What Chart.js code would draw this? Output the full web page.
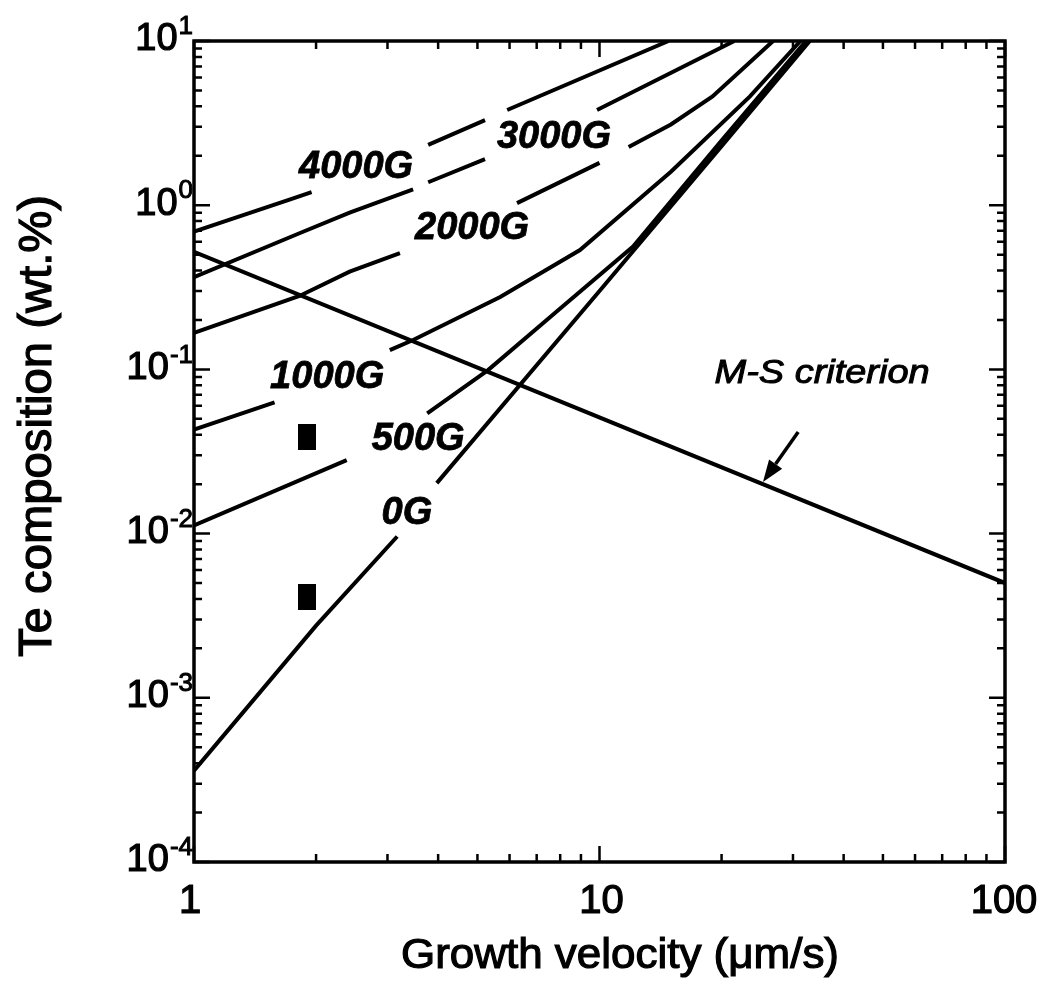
<!DOCTYPE html>
<html>
<head>
<meta charset="utf-8">
<script src="https://cdn.jsdelivr.net/npm/chart.js@4.4.1/dist/chart.umd.min.js"></script>
<style>
  html, body { margin: 0; padding: 0; background: #fff; }
</style>
</head>
<body>
<canvas id="teChart" width="1046" height="985"></canvas>
<script>
// axis ranges
const velMin = 1, velMax = 100;
const compMin = 1e-4, compMax = 10;
const xTickValues = [1, 10, 100];
const yTickExponents = [1, 0, -1, -2, -3, -4];

// [growth velocity (um/s), Te composition (wt.%)]; a null composition breaks the line (label gap)
const curve0G = [[1, 3.6e-4], [2, 2.75e-3], [3.17, 0.0096], [3.5, null], [3.97, 0.0203], [10, 0.30], [20, 2.29], [33, 10]];
const curve500G = [[1, 0.0112], [2.38, 0.028], [3, null], [3.76, 0.054], [5.31, 0.099], [8, 0.235], [12.1, 0.56], [20, 2.48], [32.3, 10]];
const curve1000G = [[1, 0.043], [1.58, 0.063], [2.2, null], [3.04, 0.131], [3.47, 0.151], [5.69, 0.276], [8.95, 0.533], [15, 1.6], [23.5, 4.6], [31.3, 10]];
const curve2000G = [[1, 0.167], [1.82, 0.28], [2.42, 0.394], [3.22, 0.51], [4.5, null], [6.26, 1.03], [10, 1.81], [10.9, null], [11.8, 2.26], [15, 3.1], [19, 4.6], [26.8, 10]];
const curve3000G = [[1, 0.365], [1.82, 0.675], [2.42, 0.90], [3.47, 1.25], [3.6, null], [3.78, 1.38], [5.22, 1.91], [7, null], [9.86, 3.80], [21.5, 10]];
const curve4000G = [[1, 0.69], [1.72, 1.08], [1.95, 1.20], [2.7, null], [3.78, 2.33], [5.22, 3.30], [5.6, null], [5.92, 3.80], [14.8, 10]];
const msCriterion = [[1, 0.52], [100, 0.0050]];
const measured = [[1.9, 0.0387], [1.9, 0.0041]];

// label anchors in data units [text, velocity, composition]
const curveLabels = [
  ['4000G', 2.51, 1.685],
  ['3000G', 7.72, 2.60],
  ['2000G', 4.85, 0.726],
  ['1000G', 2.13, 0.0887],
  ['500G', 3.57, 0.0372],
  ['0G', 3.35, 0.0133]
];
const msLabel = ['M-S criterion', 35.4, 0.095];
const msArrow = [[30.9, 0.0416], [25.3, 0.0206]];

const FONT = '"Liberation Sans", Arial, Helvetica, sans-serif';

function toPoints(arr) {
  return arr.map(p => ({ x: p[0], y: p[1] }));
}

function curve(arr) {
  return {
    data: toPoints(arr),
    showLine: true,
    borderColor: '#000',
    borderWidth: 4,
    pointRadius: 0,
    spanGaps: false,
    tension: 0
  };
}

// filled upright rectangle used for the measured points
const markerCanvas = document.createElement('canvas');
markerCanvas.width = 18;
markerCanvas.height = 26;
const mctx = markerCanvas.getContext('2d');
mctx.fillStyle = '#000';
mctx.fillRect(0, 0, 18, 26);

// scanned original has heavy type, so text gets a thin outline too
function putText(ctx, str, cx, cy, font, fitWidth, angle, heavy) {
  ctx.save();
  ctx.font = font;
  ctx.translate(cx, cy);
  if (angle) ctx.rotate(angle);
  if (fitWidth) {
    const w = ctx.measureText(str).width;
    ctx.scale(fitWidth / w, 1);
  }
  ctx.textAlign = 'center';
  ctx.textBaseline = 'middle';
  ctx.fillStyle = '#000';
  ctx.fillText(str, 0, 0);
  if (heavy) {
    ctx.strokeStyle = '#000';
    ctx.lineWidth = heavy;
    ctx.strokeText(str, 0, 0);
  }
  ctx.restore();
}

const decorations = {
  id: 'decorations',
  afterDatasetsDraw(chart) {
    const ctx = chart.ctx;
    const area = chart.chartArea;
    const xs = chart.scales.x;
    const ys = chart.scales.y;

    ctx.save();
    ctx.strokeStyle = '#000';
    ctx.lineWidth = 3.5;
    ctx.strokeRect(area.left, area.top, area.right - area.left, area.bottom - area.top);

    // inward log ticks on all four sides
    ctx.lineWidth = 2.5;
    for (let d = 0; d <= 2; d++) {
      for (let m = 1; m <= 9; m++) {
        const v = m * Math.pow(10, d);
        if (v > velMax) break;
        const px = xs.getPixelForValue(v);
        const len = m === 1 ? 16 : 8;
        ctx.beginPath();
        ctx.moveTo(px, area.bottom); ctx.lineTo(px, area.bottom - len);
        ctx.moveTo(px, area.top); ctx.lineTo(px, area.top + len);
        ctx.stroke();
      }
    }
    for (let d = -4; d <= 1; d++) {
      for (let m = 1; m <= 9; m++) {
        const v = m * Math.pow(10, d);
        if (v > compMax * 1.0001) break;
        const py = ys.getPixelForValue(v);
        const len = m === 1 ? 16 : 8;
        ctx.beginPath();
        ctx.moveTo(area.left, py); ctx.lineTo(area.left + len, py);
        ctx.moveTo(area.right, py); ctx.lineTo(area.right - len, py);
        ctx.stroke();
      }
    }

    // x tick labels
    const xShift = { 1: -4, 10: 2, 100: -1 };
    xTickValues.forEach(v => {
      const px = xs.getPixelForValue(v);
      putText(ctx, String(v), px + xShift[v], 902, '40px ' + FONT, null, 0, 1.2);
    });

    // y tick labels as 10 with superscript exponent
    yTickExponents.forEach(e => {
      const py = ys.getPixelForValue(Math.pow(10, e));
      const sup = e < 0 ? '-' + (-e) : String(e);
      ctx.fillStyle = '#000';
      ctx.strokeStyle = '#000';
      ctx.textAlign = 'right';
      ctx.textBaseline = 'middle';
      ctx.font = '26px ' + FONT;
      const sw = ctx.measureText(sup).width;
      ctx.lineWidth = 1;
      ctx.fillText(sup, 193, py - 14);
      ctx.strokeText(sup, 193, py - 14);
      ctx.font = '38px ' + FONT;
      ctx.lineWidth = 1.2;
      ctx.fillText('10', 193 - sw - 1, py - 1);
      ctx.strokeText('10', 193 - sw - 1, py - 1);
    });

    // axis titles
    putText(ctx, 'Growth velocity (\u03bcm/s)', 620, 956, '43px ' + FONT, 438, 0, 1.2);
    putText(ctx, 'Te composition (wt.%)', 38, 426, '46px ' + FONT, 462, -Math.PI / 2, 1.2);

    // curve labels
    curveLabels.forEach(l => {
      putText(ctx, l[0], xs.getPixelForValue(l[1]), ys.getPixelForValue(l[2]), 'italic bold 38px ' + FONT, null, 0, 0.8);
    });
    putText(ctx, msLabel[0], xs.getPixelForValue(msLabel[1]), ys.getPixelForValue(msLabel[2]), 'italic 34px ' + FONT, 215, 0, 1);

    // arrow to the M-S line
    const x1 = xs.getPixelForValue(msArrow[0][0]), y1 = ys.getPixelForValue(msArrow[0][1]);
    const x2 = xs.getPixelForValue(msArrow[1][0]), y2 = ys.getPixelForValue(msArrow[1][1]);
    const ang = Math.atan2(y2 - y1, x2 - x1);
    const headLen = 22, headW = 8;
    const bx = x2 - headLen * Math.cos(ang), by = y2 - headLen * Math.sin(ang);
    ctx.lineWidth = 3.5;
    ctx.beginPath();
    ctx.moveTo(x1, y1); ctx.lineTo(bx, by);
    ctx.stroke();
    ctx.beginPath();
    ctx.moveTo(x2, y2);
    ctx.lineTo(bx + headW * Math.sin(ang), by - headW * Math.cos(ang));
    ctx.lineTo(bx - headW * Math.sin(ang), by + headW * Math.cos(ang));
    ctx.closePath();
    ctx.fillStyle = '#000';
    ctx.fill();
    ctx.restore();
  }
};

const ctx = document.getElementById('teChart').getContext('2d');
new Chart(ctx, {
  type: 'scatter',
  data: {
    datasets: [
      curve(curve0G),
      curve(curve500G),
      curve(curve1000G),
      curve(curve2000G),
      curve(curve3000G),
      curve(curve4000G),
      curve(msCriterion),
      {
        data: toPoints(measured),
        showLine: false,
        pointStyle: markerCanvas,
        pointRadius: 10
      }
    ]
  },
  options: {
    responsive: false,
    animation: false,
    devicePixelRatio: 1,
    layout: { padding: { left: 194, right: 41, top: 41, bottom: 123 } },
    plugins: {
      legend: { display: false },
      tooltip: { enabled: false }
    },
    scales: {
      x: { type: 'logarithmic', min: velMin, max: velMax, display: false },
      y: { type: 'logarithmic', min: compMin, max: compMax, display: false }
    }
  },
  plugins: [decorations]
});
</script>
</body>
</html>
